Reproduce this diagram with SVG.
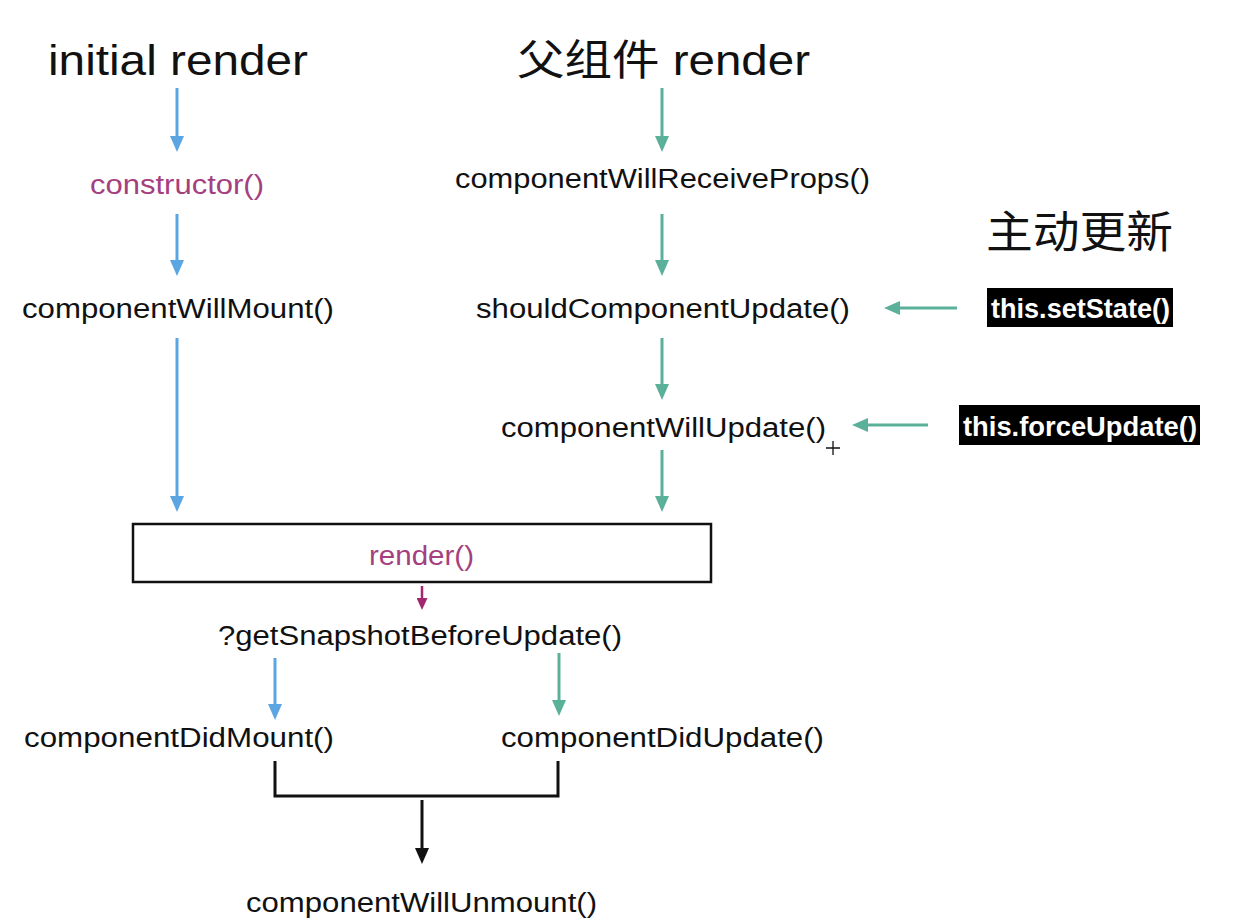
<svg xmlns="http://www.w3.org/2000/svg" width="1248" height="924" viewBox="0 0 1248 924">
<defs>
<style>
.t{font-family:"Liberation Sans","Noto Sans CJK SC",Arial,sans-serif;font-size:27px;fill:#111;}
.h{font-size:42px;}
.c{font-size:44px;}
.p{fill:#a5407f;}
.w{fill:#fff;font-weight:bold;}
.lb{stroke:#5aa5e2;stroke-width:3;fill:none;}
.lg{stroke:#5bb09a;stroke-width:3;fill:none;}
.lp{stroke:#a3276f;stroke-width:2.5;fill:none;}
.lk{stroke:#111;stroke-width:3;fill:none;}
</style>
<marker id="ab" markerUnits="userSpaceOnUse" viewBox="0 0 16 14" markerWidth="16" markerHeight="14" refX="4" refY="7" orient="auto"><path d="M0,0 L16,7 L0,14 z" fill="#5aa5e2"/></marker>
<marker id="ag" markerUnits="userSpaceOnUse" viewBox="0 0 16 14" markerWidth="16" markerHeight="14" refX="4" refY="7" orient="auto"><path d="M0,0 L16,7 L0,14 z" fill="#5bb09a"/></marker>
<marker id="ap" markerUnits="userSpaceOnUse" viewBox="0 0 12 11" markerWidth="12" markerHeight="11" refX="3" refY="5.5" orient="auto"><path d="M0,0 L12,5.5 L0,11 z" fill="#a3276f"/></marker>
<marker id="ak" markerUnits="userSpaceOnUse" viewBox="0 0 16 14" markerWidth="16" markerHeight="14" refX="4" refY="7" orient="auto"><path d="M0,0 L16,7 L0,14 z" fill="#111"/></marker>
</defs>
<rect width="1248" height="924" fill="#fff"/>

<g id="connectors">
<line class="lb" x1="177" y1="88" x2="177" y2="140" marker-end="url(#ab)"/>
<line class="lb" x1="177" y1="214" x2="177" y2="264" marker-end="url(#ab)"/>
<line class="lb" x1="177" y1="338" x2="177" y2="500" marker-end="url(#ab)"/>
<line class="lg" x1="662" y1="88" x2="662" y2="140" marker-end="url(#ag)"/>
<line class="lg" x1="662" y1="214" x2="662" y2="264" marker-end="url(#ag)"/>
<line class="lg" x1="662" y1="338" x2="662" y2="388" marker-end="url(#ag)"/>
<line class="lg" x1="662" y1="450" x2="662" y2="500" marker-end="url(#ag)"/>
<line class="lg" x1="957" y1="308" x2="896" y2="308" marker-end="url(#ag)"/>
<line class="lg" x1="928" y1="425" x2="864" y2="425" marker-end="url(#ag)"/>
<line class="lp" x1="422" y1="586" x2="422" y2="601" marker-end="url(#ap)"/>
<line class="lb" x1="275" y1="658" x2="275" y2="708" marker-end="url(#ab)"/>
<line class="lg" x1="559" y1="653" x2="559" y2="704" marker-end="url(#ag)"/>
<path class="lk" d="M275,761 V796 H558 V761"/>
<line class="lk" x1="422" y1="800" x2="422" y2="852" marker-end="url(#ak)"/>
</g>

<g id="title-initial"><text class="t h" x="48" y="75" textLength="260" lengthAdjust="spacingAndGlyphs">initial render</text></g>
<g id="title-parent"><text class="t h" x="517" y="75" textLength="293" lengthAdjust="spacingAndGlyphs">父组件 render</text></g>
<g id="title-active"><text class="t c" x="986" y="248" textLength="187" lengthAdjust="spacingAndGlyphs">主动更新</text></g>

<g id="n-constructor"><text class="t p" x="90" y="194" textLength="174" lengthAdjust="spacingAndGlyphs">constructor()</text></g>
<g id="n-cwrp"><text class="t" x="455" y="188" textLength="415" lengthAdjust="spacingAndGlyphs">componentWillReceiveProps()</text></g>
<g id="n-cwm"><text class="t" x="22" y="318" textLength="312" lengthAdjust="spacingAndGlyphs">componentWillMount()</text></g>
<g id="n-scu"><text class="t" x="476" y="318" textLength="374" lengthAdjust="spacingAndGlyphs">shouldComponentUpdate()</text></g>
<g id="n-setstate"><rect x="987" y="288" width="186" height="39" fill="#000"/><text class="t w" x="991" y="318" textLength="179" lengthAdjust="spacingAndGlyphs">this.setState()</text></g>
<g id="n-cwu"><text class="t" x="501" y="437" textLength="325" lengthAdjust="spacingAndGlyphs">componentWillUpdate()</text>
<path d="M833,441 V455 M826,448 H840" stroke="#111" stroke-width="1.3" fill="none"/></g>
<g id="n-forceupdate"><rect x="959" y="405" width="241" height="40" fill="#000"/><text class="t w" x="963" y="436" textLength="234" lengthAdjust="spacingAndGlyphs">this.forceUpdate()</text></g>
<g id="n-render"><rect x="133" y="524" width="578" height="58" fill="none" stroke="#111" stroke-width="2.5"/><text class="t p" x="369" y="565" textLength="105" lengthAdjust="spacingAndGlyphs">render()</text></g>
<g id="n-gsbu"><text class="t" x="218" y="645" textLength="404" lengthAdjust="spacingAndGlyphs">?getSnapshotBeforeUpdate()</text></g>
<g id="n-cdm"><text class="t" x="24" y="747" textLength="310" lengthAdjust="spacingAndGlyphs">componentDidMount()</text></g>
<g id="n-cdu"><text class="t" x="501" y="747" textLength="323" lengthAdjust="spacingAndGlyphs">componentDidUpdate()</text></g>
<g id="n-cwun"><text class="t" x="246" y="912" textLength="351" lengthAdjust="spacingAndGlyphs">componentWillUnmount()</text></g>
</svg>
